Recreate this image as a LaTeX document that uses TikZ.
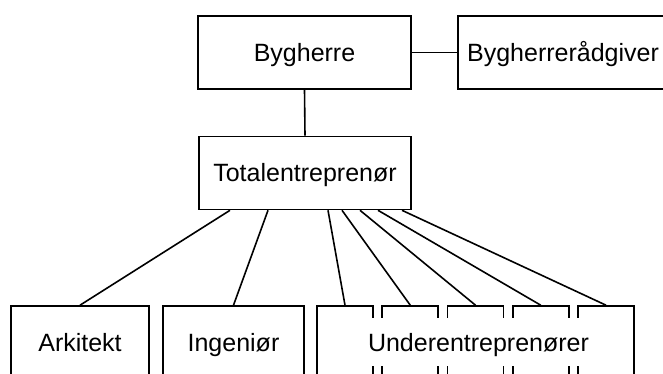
\documentclass[tikz,border=0pt]{standalone}
\usepackage{fontspec}
\setmainfont{Liberation Sans}
\usepackage{tikz}

\tikzset{
  boks/.style={draw, line width=1.6pt, minimum height=73pt, inner sep=0pt,
    text height=18pt, text depth=0pt, font=\fontsize{25}{30}\selectfont},
  forb/.style={line width=1.6pt},
}

\begin{document}
\begin{tikzpicture}[x=1pt,y=-1pt]
\useasboundingbox (0,0) rectangle (663,374);
\clip (0,0) rectangle (663,374);

%% Top
\node[boks, minimum width=213pt] (byg) at (304.5,52.5) {Bygherre};
\node[boks, minimum width=210pt] (raad) at (563,52.5) {Bygherrerådgiver};
\node[boks, minimum width=212pt] (tot) at (305,173) {Totalentreprenør};

\draw[forb] (byg.east) -- (raad.west);
\draw[forb] (byg.south) -- (tot.north);

%% Bottom row
\node[boks, minimum width=138pt] (ark) at (80,342.5) {Arkitekt};
\node[boks, minimum width=141pt] (ing) at (233.5,342.5) {Ingeniør};
\foreach \i in {1,...,5}
  \node[boks, minimum width=56pt] (ue\i) at ({345+65.25*(\i-1)},342.5) {};
\node[fill=white, minimum width=225pt, minimum height=48pt, inner sep=0pt,
  text height=18pt, text depth=0pt,
  font=\fontsize{25}{30}\selectfont] (uetxt) at (478.5,342) {Underentreprenører};

%% Lines
\draw[forb] ([xshift=-75pt]tot.south) -- (ark.north);
\draw[forb] ([xshift=-37pt]tot.south) -- (ing.north);
\foreach \i/\dx in {1/23,2/37,3/55,4/73,5/97}
  \draw[forb] ([xshift=\dx pt]tot.south) -- (ue\i.north);
\end{tikzpicture}
\end{document}
